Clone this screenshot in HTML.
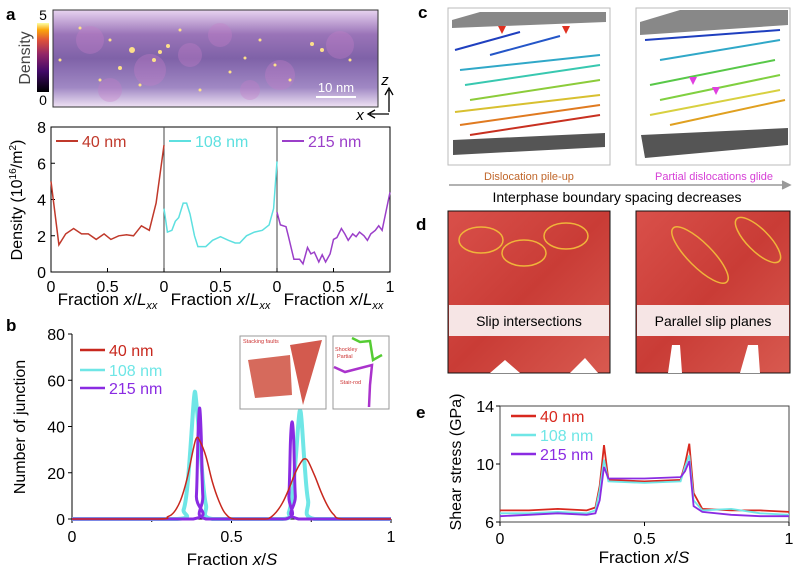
<!DOCTYPE html>
<html><head><meta charset="utf-8"><style>
body{margin:0;background:#fff}
svg{display:block;font-family:"Liberation Sans",sans-serif}
</style></head><body>
<svg id="fig" width="800" height="574" viewBox="0 0 800 574" xmlns="http://www.w3.org/2000/svg">
<defs>
<linearGradient id="cbar" x1="0" y1="1" x2="0" y2="0"><stop offset="0" stop-color="#000004"/><stop offset="0.3" stop-color="#420a68"/><stop offset="0.55" stop-color="#932667"/><stop offset="0.75" stop-color="#dd513a"/><stop offset="0.9" stop-color="#fca50a"/><stop offset="1" stop-color="#fcffa4"/></linearGradient>
<linearGradient id="hm" x1="0" y1="0" x2="0" y2="1"><stop offset="0" stop-color="#e8d4f0"/><stop offset="0.25" stop-color="#9a74b8"/><stop offset="0.5" stop-color="#7f62a8"/><stop offset="0.8" stop-color="#a088c4"/><stop offset="1" stop-color="#efe2f4"/></linearGradient>
<linearGradient id="dred" x1="0" y1="0" x2="1" y2="1"><stop offset="0" stop-color="#d9504a"/><stop offset="0.5" stop-color="#c93c36"/><stop offset="1" stop-color="#d85a50"/></linearGradient>
</defs>
<g id="panelA">
<text x="6" y="20" font-size="17" font-weight="bold">a</text>
<rect x="53" y="10" width="325" height="97" fill="url(#hm)" stroke="#333"/>
<g id="dots"></g>
<line x1="316" y1="97" x2="356" y2="97" stroke="#fff" stroke-width="2"/>
<text x="336" y="92" font-size="13" fill="#fff" text-anchor="middle">10 nm</text>
<rect x="37" y="23" width="12" height="69" fill="url(#cbar)"/>
<text x="43" y="20" font-size="14" text-anchor="middle">5</text>
<text x="43" y="105" font-size="14" text-anchor="middle">0</text>
<text transform="translate(30,58) rotate(-90)" font-size="16" fill="#444" text-anchor="middle">Density</text>
<path d="M389 112 V90 M385 95 L389 88 L393 95" stroke="#000" fill="none" stroke-width="1.3"/>
<path d="M389 114 H370 M375 110 L368 114 L375 118" stroke="#000" fill="none" stroke-width="1.3"/>
<text x="385" y="85" font-size="15" font-style="italic" text-anchor="middle">z</text>
<text x="360" y="120" font-size="15" font-style="italic" text-anchor="middle">x</text>
<g id="aAxes"></g>
</g>
<g id="panelB">
<text x="6" y="331" font-size="17" font-weight="bold">b</text>
<g id="bAxes"></g>
<rect x="240" y="336" width="86" height="73" fill="#fff" stroke="#999"/>
<path d="M248 360 L290 355 L292 395 L255 398 Z" fill="#d66a5c"/>
<path d="M290 345 L322 340 L303 405 Z" fill="#d35a4e"/>
<text x="243" y="343" font-size="5.5" fill="#c33">Stacking faults</text>
<rect x="333" y="336" width="56" height="73" fill="#fff" stroke="#999"/>
<path d="M352 338 L360 342 L370 341 L373 360 L382 355" stroke="#5c3" stroke-width="2.5" fill="none"/>
<path d="M334 367 L345 372 L372 365 L370 385 L369 407" stroke="#a3c" stroke-width="2.5" fill="none"/>
<text x="335" y="351" font-size="5.5" fill="#c33">Shockley</text>
<text x="337" y="358" font-size="5.5" fill="#c33">Partial</text>
<text x="340" y="384" font-size="5.5" fill="#c33">Stair-rod</text>
</g>
<g id="panelC">
<text x="418" y="18" font-size="17" font-weight="bold">c</text>
<rect x="448" y="8" width="162" height="157" fill="#fff" stroke="#bbb"/>
<path d="M452 20 L480 12 L606 12 L606 22 L452 28 Z" fill="#888"/>
<path d="M453 140 L605 133 L605 147 L453 155 Z" fill="#555"/>
<rect x="636" y="8" width="154" height="157" fill="#fff" stroke="#bbb"/>
<path d="M640 22 L680 10 L788 10 L788 25 L640 35 Z" fill="#888"/>
<path d="M641 135 L788 128 L788 145 L645 158 Z" fill="#555"/>
<g id="dislines"></g>
<text x="529" y="180" font-size="11" fill="#c0662a" text-anchor="middle">Dislocation pile-up</text>
<text x="714" y="180" font-size="11" fill="#d63fd6" text-anchor="middle">Partial dislocations glide</text>
<path d="M449 185 H788 M782 181 L790 185 L782 189" stroke="#999" stroke-width="1.5" fill="#999"/>
<text x="617" y="202" font-size="14" text-anchor="middle">Interphase boundary spacing decreases</text>
</g>
<g id="panelD">
<text x="416" y="230" font-size="17" font-weight="bold">d</text>
<rect x="448" y="211" width="162" height="162" fill="url(#dred)" stroke="#111"/>
<rect x="636" y="211" width="154" height="162" fill="url(#dred)" stroke="#111"/>
<ellipse cx="481" cy="240" rx="22" ry="13" fill="none" stroke="#f0b43a" stroke-width="1.5"/>
<ellipse cx="524" cy="253" rx="22" ry="13" fill="none" stroke="#f0b43a" stroke-width="1.5"/>
<ellipse cx="566" cy="236" rx="22" ry="13" fill="none" stroke="#f0b43a" stroke-width="1.5"/>
<ellipse cx="700" cy="255" rx="38" ry="12" transform="rotate(45 700 255)" fill="none" stroke="#f0b43a" stroke-width="1.5"/>
<ellipse cx="758" cy="240" rx="30" ry="11" transform="rotate(45 758 240)" fill="none" stroke="#f0b43a" stroke-width="1.5"/>
<path d="M490 373 L505 360 L520 373 Z M570 373 L585 358 L598 373 Z M668 373 L672 345 L680 345 L682 373 Z M740 373 L748 345 L758 345 L760 373 Z" fill="#fff"/>
<rect x="449" y="305" width="160" height="31" fill="#f8eeee" opacity="0.95"/>
<rect x="637" y="305" width="152" height="31" fill="#f8eeee" opacity="0.95"/>
<text x="529" y="326" font-size="14" text-anchor="middle">Slip intersections</text>
<text x="713" y="326" font-size="14" text-anchor="middle">Parallel slip planes</text>
</g>
<g id="panelE">
<text x="416" y="418" font-size="17" font-weight="bold">e</text>
<g id="eAxes"></g>
</g>
</svg>
<script>
// ---------- Panel a data ----------
const aX40=[0,0.07,0.13,0.2,0.27,0.33,0.4,0.47,0.53,0.6,0.67,0.73,0.8,0.87,0.93,1];
const aY40=[5,1.5,2.1,2.4,2.1,2.1,1.8,2.1,1.8,2.0,2.05,2.0,2.55,2.3,3.8,7.0];
const aX108=[0,0.03,0.07,0.1,0.13,0.17,0.2,0.23,0.27,0.3,0.37,0.43,0.5,0.57,0.63,0.67,0.73,0.8,0.87,0.93,0.97,1];
const aY108=[3.5,2.2,2.3,2.8,3.0,3.8,3.8,3.2,2.0,1.4,1.4,1.75,1.95,1.75,1.6,1.6,2.0,2.2,2.3,2.6,3.5,6.1];
const aX215=[0,0.03,0.08,0.1,0.15,0.2,0.23,0.27,0.3,0.33,0.37,0.4,0.43,0.47,0.5,0.53,0.57,0.6,0.63,0.67,0.7,0.73,0.77,0.8,0.83,0.87,0.9,0.93,0.97,1];
const aY215=[3.3,2.6,2.5,2.0,0.7,0.7,0.45,1.35,1.0,1.1,0.55,0.95,0.55,1.0,1.8,1.9,2.4,2.1,1.75,2.1,1.95,2.2,2.0,1.75,2.1,2.3,2.55,2.3,3.5,4.4];
const aYTicks=[0,2,4,6,8];
const aXTicks=["0","0.5","0","0.5","0","0.5","1"];
// ---------- Panel b data ----------
const bX40=[0,0.27,0.30,0.32,0.34,0.36,0.38,0.39,0.40,0.42,0.44,0.46,0.48,0.51,0.6,0.62,0.64,0.66,0.68,0.70,0.72,0.73,0.74,0.76,0.78,0.80,0.82,0.85,1];
const bY40=[0,0,1,3,8,17,30,35,34,27,16,8,2.5,0,0,0.5,3,7,13,20,25,26,25,19,12,6,2,0,0];
const bX108=[0,0.33,0.35,0.36,0.37,0.38,0.385,0.39,0.40,0.41,0.42,0.44,0.66,0.68,0.69,0.70,0.71,0.715,0.72,0.73,0.74,0.76,1];
const bY108=[0,0,4,12,28,48,55,50,35,17,6,0,0,3,10,24,42,47,42,22,8,0,0];
const bX215=[0,0.38,0.39,0.395,0.40,0.405,0.41,0.42,0.67,0.68,0.685,0.69,0.695,0.70,0.71,1];
const bY215=[0,0,10,36,48,36,10,0,0,10,34,42,34,10,0,0];
const bYTicks=[0,20,40,60,80];
const bXTicks=[0,0.5,1];
// ---------- Panel e data ----------
const eX=[0,0.1,0.2,0.3,0.33,0.345,0.36,0.375,0.5,0.625,0.64,0.655,0.67,0.7,0.8,0.9,1];
const eY40=[6.8,6.8,6.9,6.8,7.0,8.5,11.3,8.9,8.8,8.9,10.0,11.4,8.0,6.9,6.8,6.8,6.7];
const eY108=[6.6,6.6,6.7,6.6,6.8,8.2,10.3,8.8,8.7,8.8,9.8,10.6,7.5,6.8,6.9,6.6,6.5];
const eY215=[6.4,6.5,6.6,6.5,6.6,7.5,9.8,9.0,9.0,9.1,9.5,10.2,7.1,6.7,6.5,6.4,6.4];
const eYTicks=[6,10,14];
const eXTicks=[0,0.5,1];

const NS="http://www.w3.org/2000/svg";
function mk(tag,parent,attrs){const e=document.createElementNS(NS,tag);for(const k in attrs)e.setAttribute(k,attrs[k]);parent.appendChild(e);return e;}
function txt(parent,x,y,s,size,anchor,fill){const t=mk('text',parent,{x:x,y:y,'font-size':size,'text-anchor':anchor||'middle',fill:fill||'#000'});t.textContent=s;return t;}
function path(xs,ys,sx,sy){return xs.map((v,i)=>(i?'L':'M')+sx(v).toFixed(1)+' '+sy(ys[i]).toFixed(1)).join(' ');}
function smooth(xs,ys,sx,sy,maxY){
  const p=xs.map((v,i)=>[sx(v),sy(ys[i])]);
  let d='M'+p[0][0].toFixed(1)+' '+p[0][1].toFixed(1);
  for(let i=0;i<p.length-1;i++){
    const p0=p[i-1]||p[i],p1=p[i],p2=p[i+1],p3=p[i+2]||p2;
    const c1x=p1[0]+(p2[0]-p0[0])/6,c2x=p2[0]-(p3[0]-p1[0])/6;
    let c1y=p1[1]+(p2[1]-p0[1])/6,c2y=p2[1]-(p3[1]-p1[1])/6;
    c1y=Math.min(c1y,maxY);c2y=Math.min(c2y,maxY);
    d+=` C${c1x.toFixed(1)} ${c1y.toFixed(1)} ${c2x.toFixed(1)} ${c2y.toFixed(1)} ${p2[0].toFixed(1)} ${p2[1].toFixed(1)}`;
  }
  return d;
}

// Panel a
(function(){
const g=document.getElementById('aAxes');
const L=51,R=390,T=127,B=272,segW=(R-L)/3;
const sy=v=>B-(v/8)*(B-T);
const fr=mk('rect',g,{x:L,y:T,width:R-L,height:B-T,fill:'none',stroke:'#000','stroke-width':1});

[1,2].forEach(i=>{const l=mk('line',g,{x1:L+i*segW,y1:T,x2:L+i*segW,y2:B,stroke:'#444'});});
aYTicks.forEach(v=>{mk('line',g,{x1:L,y1:sy(v),x2:L+4,y2:sy(v),stroke:'#000'});const t=txt(g,L-5,sy(v)+6,String(v),16,'end');});
aXTicks.forEach((s,i)=>{const x=L+i*segW/2;mk('line',g,{x1:x,y1:B,x2:x,y2:B-4,stroke:'#000'});const t=txt(g,x,B+20,s,16);});
const series=[[aX40,aY40,'#c0392b','40 nm'],[aX108,aY108,'#5ee0e0','108 nm'],[aX215,aY215,'#9b3fc9','215 nm']];
series.forEach((s,i)=>{const x0=L+i*segW;const sx=v=>x0+v*segW;
const p=mk('path',g,{d:path(s[0],s[1],sx,sy),fill:'none',stroke:s[2],'stroke-width':1.5});

mk('line',g,{x1:x0+5,y1:141,x2:x0+27,y2:141,stroke:s[2],'stroke-width':2});
const t=txt(g,x0+31,147,s[3],16,'start',s[2]);
const xl=mk('text',g,{x:x0+segW/2,y:305,'font-size':17,'text-anchor':'middle'});xl.innerHTML='Fraction <tspan font-style="italic">x</tspan>/<tspan font-style="italic">L</tspan><tspan font-style="italic" font-size="11" dy="4">xx</tspan>';
});
const yt=mk('text',g,{transform:'translate(22,200) rotate(-90)','font-size':16,'text-anchor':'middle'});yt.innerHTML='Density (10<tspan font-size="10" dy="-6">16</tspan><tspan dy="6">/m</tspan><tspan font-size="10" dy="-6">2</tspan><tspan dy="6">)</tspan>';

const d=document.getElementById('dots');
const blobs=[[90,40,14],[150,70,16],[220,35,12],[280,75,15],[340,45,14],[110,90,12],[250,90,10],[190,55,12]];
blobs.forEach(b=>{const c=mk('circle',d,{cx:b[0],cy:b[1],r:b[2],fill:'#c77fc8',opacity:0.35});});
const dotsPos=[[132,50,3],[160,52,2],[154,60,2],[168,46,2],[120,68,2],[322,50,2],[312,44,2],[230,72,1.5],[100,80,1.5],[180,30,1.5],[260,40,1.5],[80,28,1.5],[200,90,1.5],[290,80,1.5],[350,60,1.5],[140,85,1.5],[110,40,1.5],[245,58,1.5],[275,65,1.5],[60,60,1.5]];
dotsPos.forEach(p=>{const c=mk('circle',d,{cx:p[0],cy:p[1],r:p[2],fill:'#fde08a'});});
})();

// Panel b
(function(){
const g=document.getElementById('bAxes');
const L=72,R=391,T=334,B=519;
const sx=v=>L+v*(R-L),sy=v=>B-(v/80)*(B-T);
const ax=mk('path',g,{d:`M${L} ${T} V${B} H${R}`,fill:'none',stroke:'#000'});
bYTicks.forEach(v=>{mk('line',g,{x1:L,y1:sy(v),x2:L-4,y2:sy(v),stroke:'#000'});const t=txt(g,L-7,sy(v)+6,String(v),16,'end');});
bXTicks.forEach(v=>{mk('line',g,{x1:sx(v),y1:B,x2:sx(v),y2:B+4,stroke:'#000'});const t=txt(g,sx(v),B+23,String(v),16);});
[0.25,0.75].forEach(v=>mk('line',g,{x1:sx(v),y1:B,x2:sx(v),y2:B+3,stroke:'#000'}));
const series=[[bX108,bY108,'#6fe6e6','108 nm',4],[bX215,bY215,'#8a2be2','215 nm',3],[bX40,bY40,'#c8281e','40 nm',1.5]];
series.forEach(s=>{const p=mk('path',g,{d:smooth(s[0],s[1],sx,sy,B),fill:'none',stroke:s[2],'stroke-width':s[4],'stroke-linejoin':'round'});});
[['40 nm','#c8281e',350],['108 nm','#6fe6e6',370],['215 nm','#8a2be2',388]].forEach(l=>{mk('line',g,{x1:80,y1:l[2],x2:105,y2:l[2],stroke:l[1],'stroke-width':2.5});const t=txt(g,109,l[2]+6,l[0],16,'start',l[1]);});
const yt=txt(g,0,0,'Number of junction',16);yt.setAttribute('transform','translate(25,427) rotate(-90)');
const xl=mk('text',g,{x:232,y:565,'font-size':17,'text-anchor':'middle'});xl.innerHTML='Fraction <tspan font-style="italic">x</tspan>/<tspan font-style="italic">S</tspan>';
})();

// Panel e
(function(){
const g=document.getElementById('eAxes');
const L=500,R=789,T=406,B=522;
const sx=v=>L+v*(R-L),sy=v=>B-((v-6)/8)*(B-T);
const fr=mk('rect',g,{x:L,y:T,width:R-L,height:B-T,fill:'none',stroke:'#444'});
eYTicks.forEach(v=>{mk('line',g,{x1:L,y1:sy(v),x2:L-4,y2:sy(v),stroke:'#000'});const t=txt(g,L-6,sy(v)+6,String(v),16,'end');});
eXTicks.forEach(v=>{mk('line',g,{x1:sx(v),y1:B,x2:sx(v),y2:B+4,stroke:'#000'});const t=txt(g,sx(v),B+22,String(v),16);});
const series=[[eY40,'#d8281e','40 nm'],[eY108,'#6fe6e6','108 nm'],[eY215,'#8a2be2','215 nm']];
series.forEach(s=>{const p=mk('path',g,{d:path(eX,s[0],sx,sy),fill:'none',stroke:s[1],'stroke-width':1.8});});
[['40 nm','#d8281e',416],['108 nm','#6fe6e6',435],['215 nm','#8a2be2',454]].forEach(l=>{mk('line',g,{x1:511,y1:l[2],x2:536,y2:l[2],stroke:l[1],'stroke-width':2.5});const t=txt(g,540,l[2]+6,l[0],16,'start',l[1]);});
const yt=txt(g,0,0,'Shear stress (GPa)',16);yt.setAttribute('transform','translate(461,462) rotate(-90)');
const xl=mk('text',g,{x:644,y:563,'font-size':17,'text-anchor':'middle'});xl.innerHTML='Fraction <tspan font-style="italic">x</tspan>/<tspan font-style="italic">S</tspan>';
})();

// Panel c decorative dislocation lines
(function(){
const d=document.getElementById('dislines');
const lines=[[455,50,520,32,'#1f3fbf'],[490,55,560,36,'#2456c8'],[460,70,600,55,'#30a8c8'],[465,85,600,65,'#38c8b0'],[470,100,600,80,'#8ccc3a'],[455,112,600,95,'#d8c030'],[460,125,600,105,'#e07a20'],[470,135,600,115,'#c83020'],
[645,40,780,30,'#1f3fbf'],[660,60,780,40,'#30a8c8'],[650,85,775,60,'#58c848'],[660,100,780,75,'#80d040'],[650,115,780,90,'#d8d040'],[670,125,785,100,'#e0a020']];
lines.forEach(l=>{const e=mk('line',d,{x1:l[0],y1:l[1],x2:l[2],y2:l[3],stroke:l[4],'stroke-width':2});});
[[502,31,'#e03020'],[566,31,'#e03020'],[693,82,'#e040e0'],[716,92,'#e040e0']].forEach(a=>{const p=mk('path',d,{d:`M${a[0]-4} ${a[1]-5} L${a[0]+4} ${a[1]-5} L${a[0]} ${a[1]+3} Z`,fill:a[2]});});
})();
</script>
</body></html>
